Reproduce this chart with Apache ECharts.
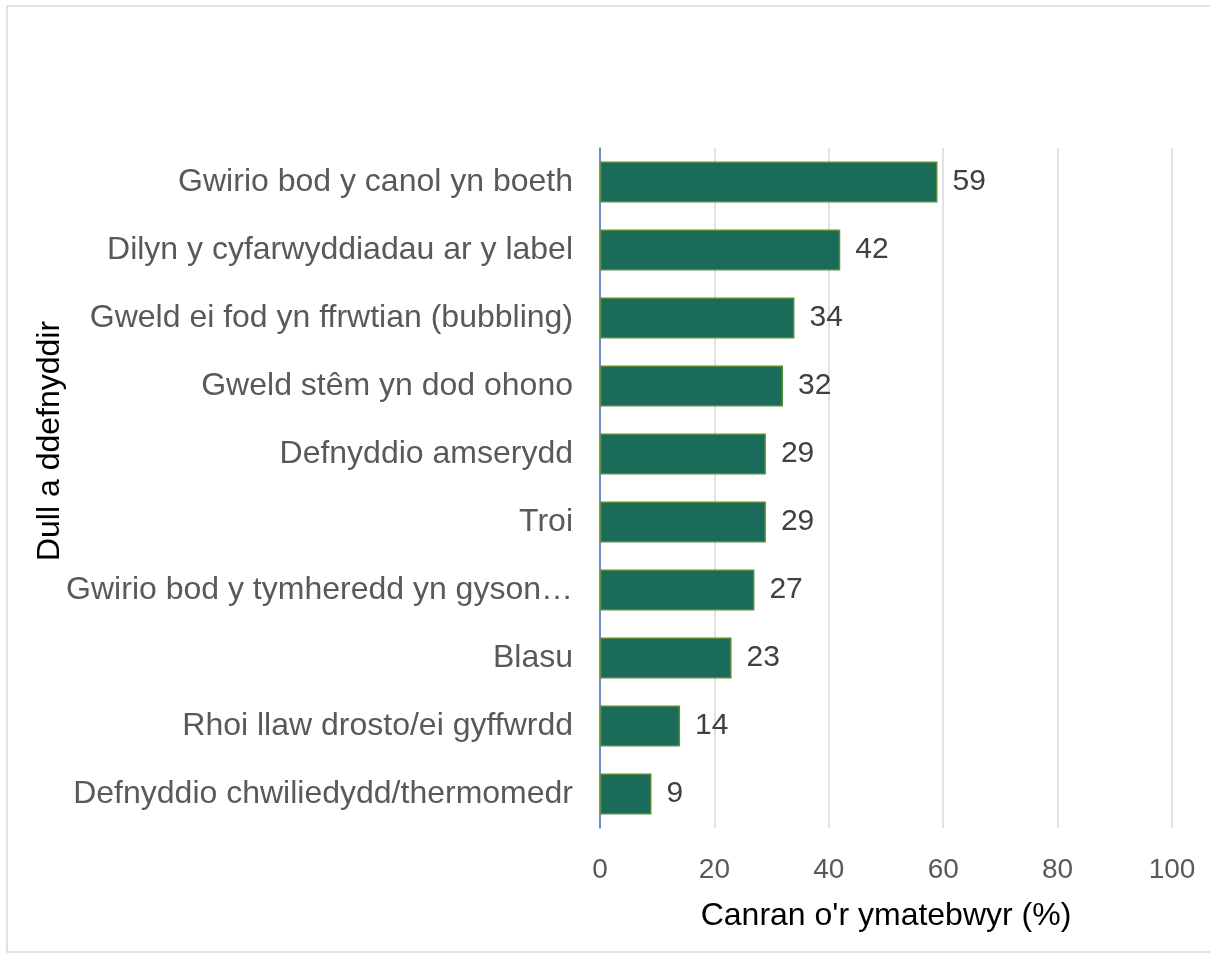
<!DOCTYPE html>
<html>
<head>
<meta charset="utf-8">
<script src="https://cdn.jsdelivr.net/npm/echarts@6/dist/echarts.min.js"></script>
<style>
  html, body { margin: 0; padding: 0; background: #fff; }
  #chart { width: 1210px; height: 955px; }
</style>
</head>
<body>
<div id="chart"></div>
<script>
  // categories from top to bottom, as shown
  const categories = [
    'Gwirio bod y canol yn boeth',
    'Dilyn y cyfarwyddiadau ar y label',
    'Gweld ei fod yn ffrwtian (bubbling)',
    'Gweld stêm yn dod ohono',
    'Defnyddio amserydd',
    'Troi',
    'Gwirio bod y tymheredd yn gyson…',
    'Blasu',
    'Rhoi llaw drosto/ei gyffwrdd',
    'Defnyddio chwiliedydd/thermomedr'
  ];
  const values = [59, 42, 34, 32, 29, 29, 27, 23, 14, 9];
  const xTicks = [0, 20, 40, 60, 80, 100];

  const font = 'Liberation Sans, Arial, sans-serif';
  const chart = echarts.init(document.getElementById('chart'));

  const option = {
    animation: false,
    backgroundColor: '#fff',
    graphic: [
      {
        type: 'rect',
        shape: { x: 7, y: 6, width: 1210, height: 946 },
        style: { fill: 'none', stroke: '#d9d9d9', lineWidth: 1.5 },
        silent: true
      },
      {
        type: 'text',
        x: 50,
        y: 441,
        rotation: Math.PI / 2,
        style: {
          text: 'Dull a ddefnyddir',
          font: '32px ' + font,
          fill: '#000',
          align: 'center',
          verticalAlign: 'middle'
        }
      }
    ],
    grid: { left: 600, right: 38, top: 148, bottom: 127 },
    xAxis: {
      type: 'value',
      min: xTicks[0],
      max: xTicks[xTicks.length - 1],
      interval: 20,
      name: "Canran o'r ymatebwyr (%)",
      nameLocation: 'middle',
      nameGap: 72,
      nameTextStyle: { fontSize: 32, color: '#000', fontFamily: font },
      axisLine: { show: false },
      axisTick: { show: false },
      axisLabel: { fontSize: 28, color: '#595959', fontFamily: font, margin: 28 },
      splitLine: { lineStyle: { color: '#d9d9d9', width: 1.5 } }
    },
    yAxis: {
      type: 'category',
      inverse: true,
      data: categories,
      axisLine: { show: true, lineStyle: { color: '#4472c4', width: 1.5 } },
      axisTick: { show: false },
      axisLabel: { fontSize: 32, color: '#595959', fontFamily: font, margin: 27 },
      splitLine: { show: false }
    },
    series: [{
      type: 'bar',
      data: values,
      barWidth: 41,
      itemStyle: { color: '#1a6b5a', borderColor: '#5b8c3a', borderWidth: 1.5 },
      label: {
        show: true,
        position: 'right',
        distance: 15,
        fontSize: 30,
        color: '#404040',
        fontFamily: font
      }
    }]
  };

  chart.setOption(option);
</script>
</body>
</html>
